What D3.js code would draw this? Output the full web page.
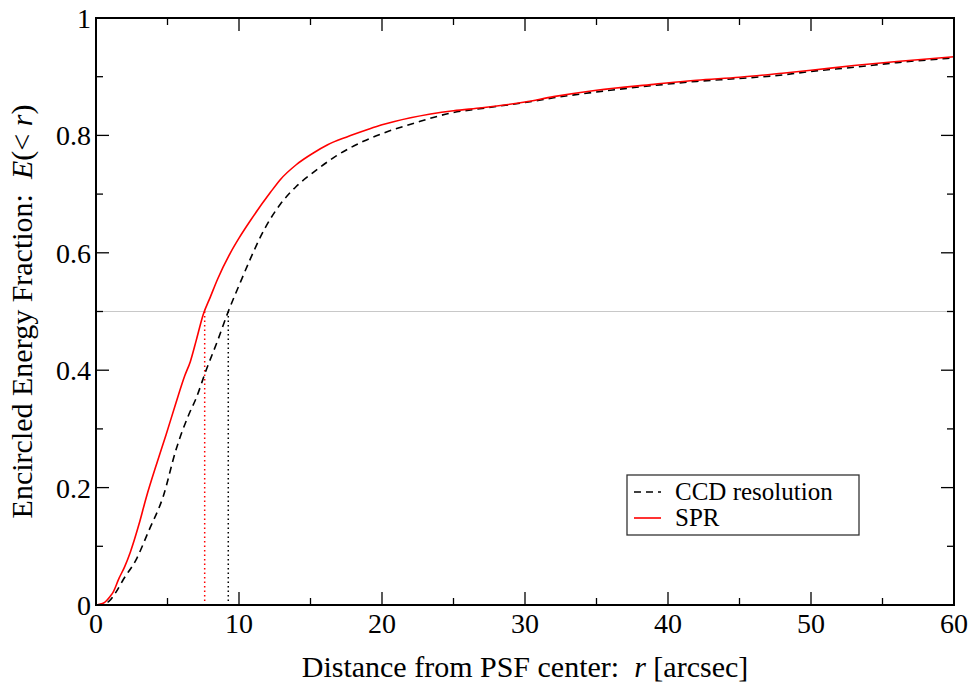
<!DOCTYPE html>
<html>
<head>
<meta charset="utf-8">
<script src="https://cdn.jsdelivr.net/npm/d3@7"></script>
<style>
  body { margin: 0; background: #fff; }
</style>
</head>
<body>
<script>
// chart size
var width = 971;
var height = 683;
var margin = {top: 18, right: 17, bottom: 78, left: 96};
var serif = "'Liberation Serif', 'Times New Roman', serif";

// data: [r in arcsec, encircled energy]
var sprCurve = [[0,0],[0.5,0.003],[1,0.015],[1.2,0.022],[1.6,0.045],[2,0.065],[2.4,0.09],
  [3,0.137],[3.5,0.182],[4.3,0.245],[4.9,0.29],[5.6,0.345],[6.2,0.39],[6.6,0.415],[7,0.45],
  [7.5,0.495],[8,0.525],[8.5,0.555],[9.4,0.6],[10,0.625],[10.8,0.655],[12.2,0.703],[12.9,0.725],
  [14,0.75],[15.2,0.77],[16.2,0.784],[17.5,0.797],[19,0.81],[20,0.818],[22,0.83],[25,0.842],
  [27,0.847],[30,0.857],[32,0.866],[35,0.877],[39,0.887],[42,0.894],[45,0.899],[48,0.906],
  [50,0.911],[53,0.919],[56,0.926],[60,0.934]];

var ccdCurve = [[0,0],[0.5,0.002],[0.9,0.006],[1.4,0.022],[1.9,0.043],[2.8,0.077],[3.7,0.127],
  [4.7,0.185],[5.6,0.265],[6.5,0.325],[7,0.352],[7.7,0.4],[8.5,0.45],[9.25,0.5],[10.1,0.55],
  [10.8,0.59],[11.5,0.627],[12.2,0.658],[12.9,0.683],[14,0.713],[15.2,0.737],[16.8,0.765],[18.7,0.79],
  [20,0.803],[22.4,0.822],[24.8,0.838],[27,0.846],[30,0.856],[32,0.864],[35,0.874],[39,0.885],
  [42,0.892],[45,0.897],[48,0.903],[50,0.909],[53,0.916],[56,0.924],[60,0.932]];

// half-energy radii (dotted markers)
var halfRadius = [{r: 7.6, color: "red"}, {r: 9.25, color: "black"}];

var xMajor = [0, 10, 20, 30, 40, 50, 60];
var xMinor = [5, 15, 25, 35, 45, 55];
var yMajor = [0, 0.2, 0.4, 0.6, 0.8, 1];
var yMinor = [0.1, 0.3, 0.5, 0.7, 0.9];
var yLabels = ["0", "0.2", "0.4", "0.6", "0.8", "1"];

var legendItems = [
  {label: "CCD resolution", color: "black", dash: "7,5"},
  {label: "SPR", color: "red", dash: null}
];

var svg = d3.select("body").append("svg")
  .attr("width", width)
  .attr("height", height);

var x = d3.scaleLinear().domain([0, 60]).range([margin.left, width - margin.right]);
var y = d3.scaleLinear().domain([0, 1]).range([height - margin.bottom, margin.top]);

var x0 = x(0), x1 = x(60), y0 = y(0), y1 = y(1);

// grey half-energy line
svg.append("line")
  .attr("x1", x0).attr("x2", x1)
  .attr("y1", y(0.5)).attr("y2", y(0.5))
  .attr("stroke", "#c8c8c8").attr("stroke-width", 1.2);

// dotted verticals at the half-energy radius
svg.selectAll(".half")
  .data(halfRadius)
  .enter().append("line")
  .attr("x1", function(d){ return x(d.r); })
  .attr("x2", function(d){ return x(d.r); })
  .attr("y1", y(0.5)).attr("y2", y0)
  .attr("stroke", function(d){ return d.color; })
  .attr("stroke-width", 1.5)
  .attr("stroke-dasharray", "1.5,3");

var line = d3.line()
  .curve(d3.curveMonotoneX)
  .x(function(d){ return x(d[0]); })
  .y(function(d){ return y(d[1]); });

svg.append("path")
  .datum(ccdCurve)
  .attr("d", line)
  .attr("fill", "none")
  .attr("stroke", "black")
  .attr("stroke-width", 1.6)
  .attr("stroke-dasharray", "7,5");

svg.append("path")
  .datum(sprCurve)
  .attr("d", line)
  .attr("fill", "none")
  .attr("stroke", "red")
  .attr("stroke-width", 1.6);

// ticks pointing inward on all four sides
var ticks = svg.append("g").attr("stroke", "black").attr("stroke-width", 1.3);
function xTicks(vals, len) {
  vals.forEach(function(v){
    ticks.append("line").attr("x1", x(v)).attr("x2", x(v)).attr("y1", y0).attr("y2", y0 - len);
    ticks.append("line").attr("x1", x(v)).attr("x2", x(v)).attr("y1", y1).attr("y2", y1 + len);
  });
}
function yTicks(vals, len) {
  vals.forEach(function(v){
    ticks.append("line").attr("y1", y(v)).attr("y2", y(v)).attr("x1", x0).attr("x2", x0 + len);
    ticks.append("line").attr("y1", y(v)).attr("y2", y(v)).attr("x1", x1).attr("x2", x1 - len);
  });
}
xTicks(xMajor, 13);
xTicks(xMinor, 7);
yTicks(yMajor, 13);
yTicks(yMinor, 7);

// frame
svg.append("rect")
  .attr("x", x0).attr("y", y1)
  .attr("width", x1 - x0).attr("height", y0 - y1)
  .attr("fill", "none").attr("stroke", "black").attr("stroke-width", 2);

// tick labels
svg.selectAll(".xlab")
  .data(xMajor)
  .enter().append("text")
  .style("font-family", serif)
  .attr("x", function(d){ return x(d); })
  .attr("y", y0 + 28)
  .attr("text-anchor", "middle")
  .attr("font-size", 28)
  .text(function(d){ return d; });

svg.selectAll(".ylab")
  .data(yMajor)
  .enter().append("text")
  .style("font-family", serif)
  .attr("x", x0 - 5)
  .attr("y", function(d){ return y(d) + 10; })
  .attr("text-anchor", "end")
  .attr("font-size", 28)
  .text(function(d, i){ return yLabels[i]; });

// axis titles
var xt = svg.append("text")
  .style("font-family", serif)
  .attr("x", (x0 + x1) / 2)
  .attr("y", 677)
  .attr("text-anchor", "middle")
  .attr("font-size", 30)
  .attr("xml:space", "preserve");
xt.append("tspan").text("Distance from PSF center:  ");
xt.append("tspan").attr("font-style", "italic").text("r");
xt.append("tspan").text(" [arcsec]");

var yt = svg.append("text")
  .style("font-family", serif)
  .attr("transform", "translate(32," + ((y0 + y1) / 2) + ") rotate(-90)")
  .attr("text-anchor", "middle")
  .attr("font-size", 30)
  .attr("xml:space", "preserve");
yt.append("tspan").text("Encircled Energy Fraction:  ");
yt.append("tspan").attr("font-style", "italic").text("E");
yt.append("tspan").text("(< ");
yt.append("tspan").attr("font-style", "italic").text("r");
yt.append("tspan").text(")");

// legend
var legend = svg.append("g").attr("transform", "translate(627,475)");
legend.append("rect")
  .attr("width", 232).attr("height", 60)
  .attr("fill", "white").attr("stroke", "#333").attr("stroke-width", 1.3);

var rows = legend.selectAll(".row")
  .data(legendItems)
  .enter().append("g")
  .attr("transform", function(d, i){ return "translate(0," + (17 + i * 26) + ")"; });
rows.append("line")
  .attr("x1", 7).attr("x2", 34)
  .attr("stroke", function(d){ return d.color; })
  .attr("stroke-width", 1.6)
  .attr("stroke-dasharray", function(d){ return d.dash; });
rows.append("text")
  .style("font-family", serif)
  .attr("x", 48).attr("y", 8)
  .attr("font-size", 25)
  .text(function(d){ return d.label; });
</script>
</body>
</html>
